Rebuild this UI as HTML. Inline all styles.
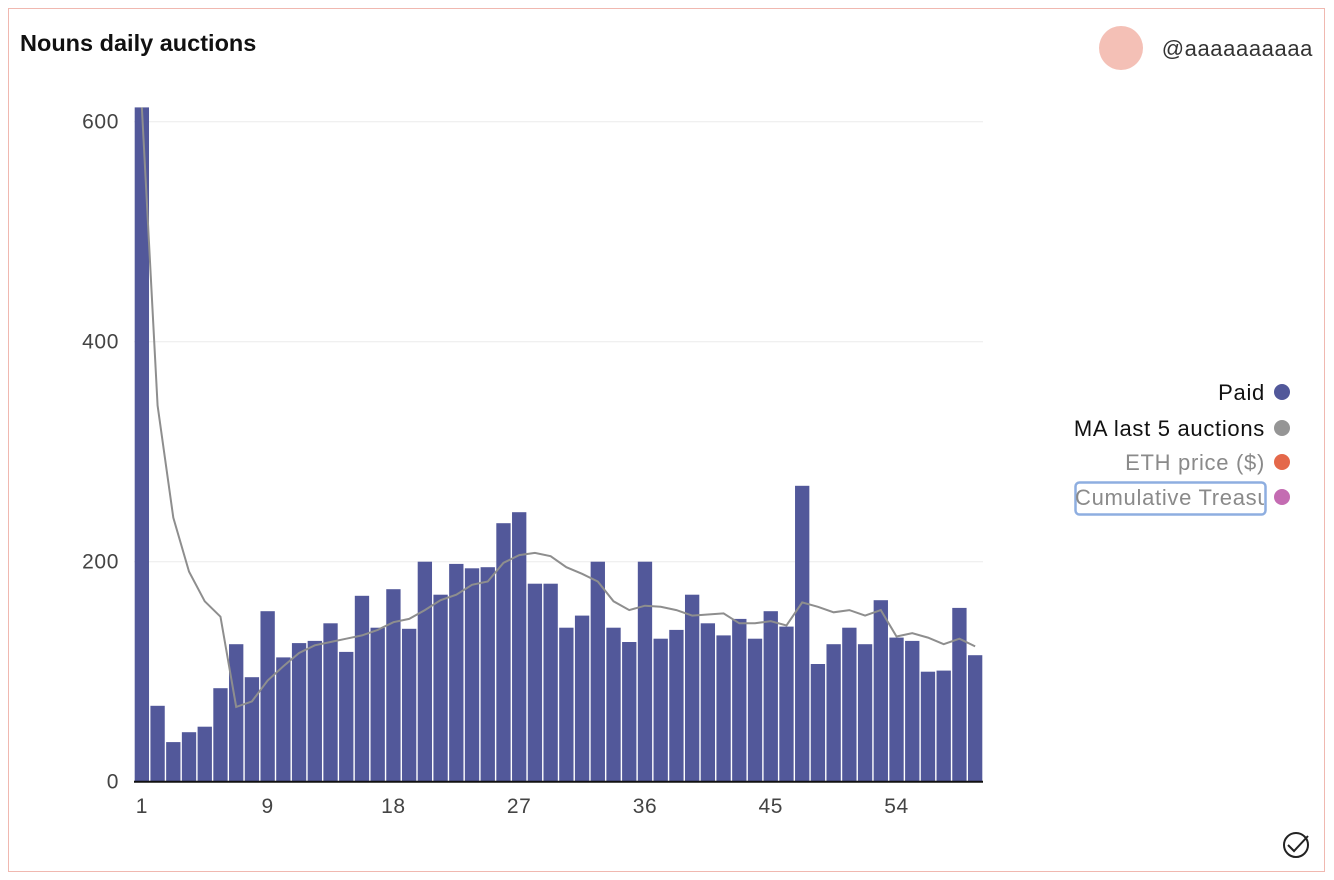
<!DOCTYPE html>
<html><head><meta charset="utf-8"><style>
html,body{margin:0;padding:0;background:#fff;}
body{width:1334px;height:880px;position:relative;overflow:hidden;font-family:"Liberation Sans",sans-serif;}
#card{position:absolute;left:8px;top:8px;width:1317px;height:864px;border:1.5px solid #f0b8b0;box-sizing:border-box;}
</style></head><body>
<div id="card"></div>
<svg id="svg" width="1334" height="880" style="position:absolute;left:0;top:0">
<text x="20" y="51" font-size="23.5" font-weight="bold" fill="#111">Nouns daily auctions</text>
<circle cx="1121" cy="48" r="22" fill="#f4c0b6"/>
<text x="1313" y="56" font-size="22" letter-spacing="0.6" fill="#333" text-anchor="end">@aaaaaaaaaa</text>
<g id="grid"></g><g id="bars"></g><g id="line"></g><g id="axes"></g>
<g font-size="22" letter-spacing="0.7">
<text x="1265" y="400" fill="#111" text-anchor="end">Paid</text>
<circle cx="1282" cy="392" r="8" fill="#52589a"/>
<text x="1265" y="436" fill="#111" text-anchor="end">MA last 5 auctions</text>
<circle cx="1282" cy="428" r="8" fill="#959595"/>
<text x="1265" y="470" fill="#8a8a8a" text-anchor="end">ETH price ($)</text>
<circle cx="1282" cy="462" r="8" fill="#e4684a"/>
<rect x="1075.5" y="482.5" width="190" height="32" rx="4" fill="none" stroke="#8eaee0" stroke-width="2.5"/>
<svg x="1076" y="483" width="188" height="31"><text x="-1" y="22" fill="#8a8a8a" font-size="22" letter-spacing="0.7">Cumulative Treasury</text></svg>
<circle cx="1282" cy="497" r="8" fill="#c46cb2"/>
</g>
<g fill="none" stroke="#222" stroke-width="2">
<circle cx="1296" cy="845" r="12"/><path d="M1288 845 l6 6 l14 -15"/>
</g>
</svg>
<script>
const paid=[613,69,36,45,50,85,125,95,155,113,126,128,144,118,169,140,175,139,200,170,198,194,195,235,245,180,180,140,151,200,140,127,200,130,138,170,144,133,148,130,155,141,269,107,125,140,125,165,131,128,100,101,158,115];
const ma=[613,342,240,191,164,150,68,73,92,105,117,124,127,130,133,138,145,148,156,165,170,179,182,199,206,208,205,195,189,182,164,156,160,159,156,151,152,153,144,144,146,142,163,159,154,156,151,156,132,135,131,125,130,123];
const yTicks=[0,200,400,600];
const xTickIdx=[0,8,16,24,32,40,48];
const xTickLabels=["1","9","18","27","36","45","54"];
const NS="http://www.w3.org/2000/svg";
const L=134,R=983,Y0=781.7,K=1.1;
const band=(R-L)/paid.length;
const x=i=>L+band*(i+0.5);
const y=v=>Y0-v*K;
function mk(t,a,p){const e=document.createElementNS(NS,t);for(const k in a)e.setAttribute(k,a[k]);document.getElementById(p).appendChild(e);return e;}
yTicks.forEach(v=>{
 if(v>0){const g=mk('line',{x1:L,x2:R,y1:y(v),y2:y(v),stroke:'#ececec','stroke-width':1},'grid');
 
 }
 const t=mk('text',{x:119,y:y(v)+7,'font-size':21,'letter-spacing':0.6,fill:'#444','text-anchor':'end'},'axes');t.textContent=v;
 
 
});
paid.forEach((v,i)=>{
 const b=mk('rect',{x:L+band*i+0.7,y:y(v),width:band-1.4,height:v*K,fill:'#52589a'},'bars');
 
 
});
const pl=mk('polyline',{points:ma.map((v,i)=>x(i)+','+y(v)).join(' '),fill:'none',stroke:'#8e8e8e','stroke-width':2},'line');


const ax=mk('line',{x1:L,x2:R,y1:Y0,y2:Y0,stroke:'#111','stroke-width':2},'axes');


xTickIdx.forEach((i,k)=>{
 const t=mk('text',{x:x(i),y:813,'font-size':21,'letter-spacing':0.6,fill:'#444','text-anchor':'middle'},'axes');t.textContent=xTickLabels[k];
 
 
});
</script>
</body></html>
